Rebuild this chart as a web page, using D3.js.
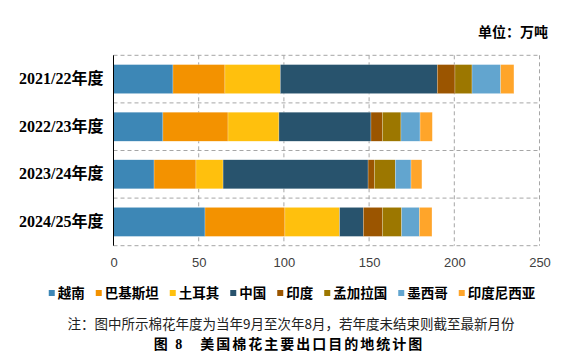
<!DOCTYPE html>
<html><head><meta charset="utf-8">
<script src="https://cdn.jsdelivr.net/npm/d3@7"></script>
<style>
html,body{margin:0;padding:0;background:#fff;}
svg{display:block;}
</style></head>
<body>
<svg id="chart" width="569" height="360"></svg>
<script>
const years = ["2021/22年度","2022/23年度","2023/24年度","2024/25年度"];
const seriesNames = ["越南","巴基斯坦","土耳其","中国","印度","孟加拉国","墨西哥","印度尼西亚"];
const vietnam    = [34.9, 29.0, 23.8, 53.7];
const pakistan   = [30.5, 38.2, 24.6, 46.9];
const turkey     = [32.5, 29.9, 15.9, 32.1];
const china      = [92.1, 54.0, 85.1, 13.9];
const india      = [10.4, 6.7, 3.7, 11.2];
const bangladesh = [10.0, 10.9, 12.3, 11.3];
const mexico     = [16.8, 11.2, 9.2, 10.4];
const indonesia  = [7.8, 7.2, 6.4, 7.4];
const xTicks = [0, 50, 100, 150, 200, 250];
const colors = ["#3d87b6","#f39200","#ffc00d","#28536d","#9b5500","#9c7700","#62a5cf","#ffa52a"];
const unitLabel = "单位：万吨";
const noteText = "注：图中所示棉花年度为当年9月至次年8月，若年度未结束则截至最新月份";
const captionText = "图 8　美国棉花主要出口目的地统计图";

const allSeries = [vietnam, pakistan, turkey, china, india, bangladesh, mexico, indonesia];
const rows = years.map((y, i) => {
  const r = {year: y};
  seriesNames.forEach((s, j) => r[s] = allSeries[j][i]);
  return r;
});
const stacked = d3.stack().keys(seriesNames)(rows);

const svg = d3.select("#chart");
const W = 569, H = 360;
const m = {left: 113.5, right: 29.5, top: 55.3, bottom: 114.3};
const x = d3.scaleLinear().domain([0, 250]).range([m.left, W - m.right]);
const y = d3.scaleBand().domain(years).range([m.top, H - m.bottom]).paddingInner(0.39).paddingOuter(0.195);
const yb = d3.scaleBand().domain(years).range([m.top, H - m.bottom]);
const color = d3.scaleOrdinal().domain(seriesNames).range(colors);

const grid = svg.append("g").attr("stroke", "#a6a6a6").attr("stroke-width", 1).attr("stroke-dasharray", "4,3").attr("fill", "none");
xTicks.forEach(t => {
  if (t === 0) return;
  grid.append("line").attr("x1", x(t)).attr("x2", x(t)).attr("y1", m.top).attr("y2", H - m.bottom);
});
const hs = [m.top].concat(years.map(yy => yb(yy) + yb.bandwidth()));
hs.forEach(v => {
  grid.append("line").attr("x1", m.left).attr("x2", x(250)).attr("y1", v).attr("y2", v);
});

svg.append("g").selectAll("g").data(stacked).join("g")
  .attr("fill", d => color(d.key))
  .selectAll("rect").data(d => d).join("rect")
  .attr("x", d => x(d[0]))
  .attr("width", d => x(d[1]) - x(d[0]))
  .attr("y", d => y(d.data.year))
  .attr("height", y.bandwidth())
  .attr("stroke", "#ffffff").attr("stroke-width", 0.4).attr("stroke-opacity", 0.6);

svg.append("line").attr("x1", m.left).attr("x2", m.left).attr("y1", m.top).attr("y2", H - m.bottom)
  .attr("stroke", "#000").attr("stroke-width", 1);

const yAxis = d3.axisLeft(yb).tickSize(0).tickPadding(10);
const yg = svg.append("g").attr("transform", `translate(${m.left},0)`).call(yAxis);
yg.select(".domain").remove();
yg.selectAll("text").attr("font-family", "'Liberation Serif','Noto Sans CJK SC',serif")
  .attr("font-weight", "bold").attr("font-size", 16).attr("fill", "#000");

const xAxis = d3.axisBottom(x).tickValues(xTicks).tickSize(0).tickPadding(12);
const xg = svg.append("g").attr("transform", `translate(0,${H - m.bottom})`).call(xAxis);
xg.select(".domain").remove();
xg.selectAll("text").attr("font-family", "'Liberation Sans',Arial,sans-serif")
  .attr("font-size", 13).attr("fill", "#404040");

svg.append("text").attr("x", 548).attr("y", 37).attr("text-anchor", "end")
  .attr("font-family", "'Noto Sans CJK SC',sans-serif").attr("font-weight", "bold")
  .attr("font-size", 14).attr("fill", "#000").text(unitLabel);

const lg = svg.append("g");
let cx = 0;
seriesNames.forEach((s, i) => {
  const g = lg.append("g");
  g.append("rect").attr("x", cx).attr("y", -3).attr("width", 6).attr("height", 6).attr("fill", colors[i]);
  const t = g.append("text").attr("x", cx + 9).attr("y", 0).attr("dy", "0.35em")
    .attr("font-family", "'Noto Sans CJK SC',sans-serif").attr("font-weight", "bold")
    .attr("font-size", 13.5).attr("fill", "#000").text(s);
  cx += 9 + t.node().getComputedTextLength() + 11;
});
const totalW = cx - 11;
lg.attr("transform", `translate(${292 - totalW / 2},293)`);

svg.append("text").attr("x", 291).attr("y", 324).attr("dy", "0.35em").attr("text-anchor", "middle")
  .attr("font-family", "'Noto Sans CJK SC',sans-serif").attr("font-size", 13.5).attr("fill", "#222")
  .text(noteText);

svg.append("text").attr("x", 289).attr("y", 344).attr("dy", "0.35em").attr("text-anchor", "middle")
  .attr("font-family", "'Liberation Serif','Noto Sans CJK SC',serif").attr("font-weight", "bold")
  .attr("font-size", 14).attr("letter-spacing", "2px").attr("fill", "#000")
  .text(captionText);
</script>
</body></html>
